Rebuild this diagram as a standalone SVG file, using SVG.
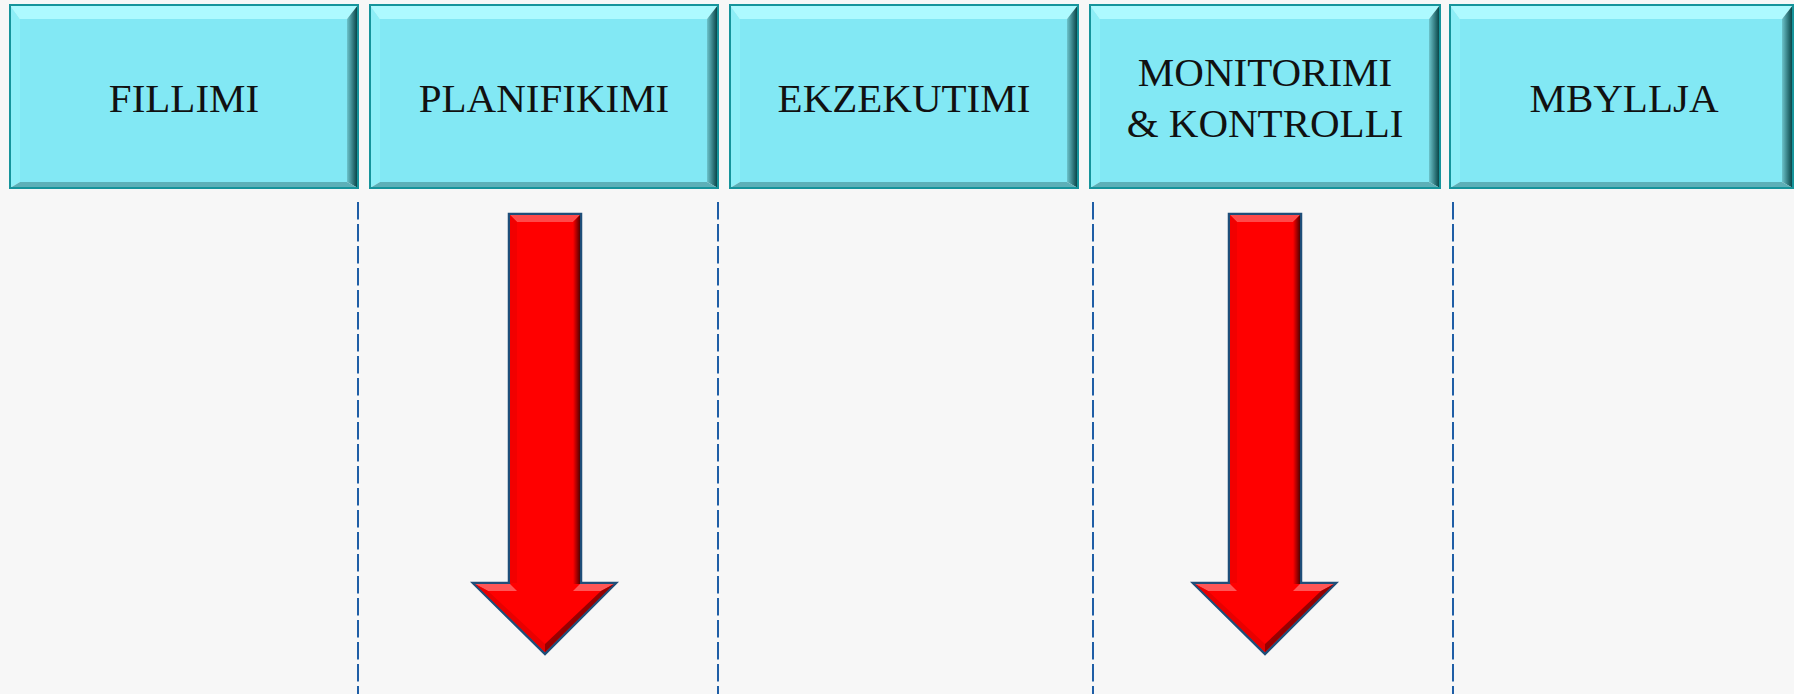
<svg xmlns="http://www.w3.org/2000/svg" width="1794" height="694" viewBox="0 0 1794 694">
<style>
  .face{fill:#82e8f4}
  .top{fill:#adfaff}
  .left{fill:#8deef7}
  .right{fill:url(#rgrad)}
  .bottom{fill:#5cb0b8}
  .border{fill:none;stroke:#16949b;stroke-width:2}
  .lbl{font-family:"Liberation Serif","Times New Roman",serif;font-size:41px;fill:#111;text-anchor:middle}
  .dash{stroke:#1f5ea6;stroke-width:2;stroke-dasharray:17.5 4.5;fill:none}
</style>
<defs>
  <linearGradient id="rgrad" x1="0" y1="0" x2="1" y2="0">
    <stop offset="0" stop-color="#6cc4cc"/>
    <stop offset="1" stop-color="#003a3c"/>
  </linearGradient>
  <linearGradient id="arR" x1="0" y1="0" x2="1" y2="0">
    <stop offset="0" stop-color="#ff0000"/>
    <stop offset="1" stop-color="#550000"/>
  </linearGradient>
  <linearGradient id="arD" x1="0" y1="0" x2="1" y2="1">
    <stop offset="0" stop-color="#c00000"/>
    <stop offset="1" stop-color="#6a0000"/>
  </linearGradient>
  <g id="arrow">
    <polygon points="-36,214 36,214 36,583 71,583 0,654 -72,583 -36,583" fill="#ff0000" stroke="#1f4e79" stroke-width="2.5" stroke-linejoin="miter"/>
    <polygon points="-35,215 35,215 28,222 -28,222" fill="#ff4a4a"/>
    <polygon points="-35,215 -28,222 -28,583 -35,583" fill="#f20000"/>
    <polygon points="28,222 35,215 35,584 28,584" fill="url(#arR)"/>
    <polygon points="-70,584 -35,584 -28,591 -57,591" fill="#ff5656"/>
    <polygon points="35,584 69,584 56,591 28,591" fill="#ff5656"/>
    <polygon points="-70,584 -57,591 0,644 0,652" fill="#e80000"/>
    <polygon points="69,584 56,591 0,644 0,652" fill="url(#arD)"/>
  </g>
</defs>
<rect width="1794" height="694" fill="#f7f7f7"/>

<g id="connectors">
  <line class="dash" x1="358" y1="202" x2="358" y2="694"/>
  <line class="dash" x1="718" y1="202" x2="718" y2="694"/>
  <line class="dash" x1="1093" y1="202" x2="1093" y2="694"/>
  <line class="dash" x1="1453" y1="202" x2="1453" y2="694"/>
  <use href="#arrow" transform="translate(545,0)"/>
  <use href="#arrow" transform="translate(1265,0)"/>
</g>

<g id="fillimi">
  <rect class="face" x="20" y="19" width="327" height="163"/>
  <polygon class="top" points="10,5 358,5 347,19 20,19"/>
  <polygon class="left" points="10,5 20,19 20,182 10,188"/>
  <polygon class="right" points="358,5 358,188 347,182 347,19"/>
  <polygon class="bottom" points="10,188 20,182 347,182 358,188"/>
  <rect class="border" x="10" y="5" width="348" height="183"/>
  <text class="lbl" x="184" y="112">FILLIMI</text>
</g>

<g id="planifikimi">
  <rect class="face" x="380" y="19" width="327" height="163"/>
  <polygon class="top" points="370,5 718,5 707,19 380,19"/>
  <polygon class="left" points="370,5 380,19 380,182 370,188"/>
  <polygon class="right" points="718,5 718,188 707,182 707,19"/>
  <polygon class="bottom" points="370,188 380,182 707,182 718,188"/>
  <rect class="border" x="370" y="5" width="348" height="183"/>
  <text class="lbl" x="544" y="112">PLANIFIKIMI</text>
</g>

<g id="ekzekutimi">
  <rect class="face" x="740" y="19" width="327" height="163"/>
  <polygon class="top" points="730,5 1078,5 1067,19 740,19"/>
  <polygon class="left" points="730,5 740,19 740,182 730,188"/>
  <polygon class="right" points="1078,5 1078,188 1067,182 1067,19"/>
  <polygon class="bottom" points="730,188 740,182 1067,182 1078,188"/>
  <rect class="border" x="730" y="5" width="348" height="183"/>
  <text class="lbl" x="904" y="112">EKZEKUTIMI</text>
</g>

<g id="monitorimi">
  <rect class="face" x="1100" y="19" width="329" height="163"/>
  <polygon class="top" points="1090,5 1440,5 1429,19 1100,19"/>
  <polygon class="left" points="1090,5 1100,19 1100,182 1090,188"/>
  <polygon class="right" points="1440,5 1440,188 1429,182 1429,19"/>
  <polygon class="bottom" points="1090,188 1100,182 1429,182 1440,188"/>
  <rect class="border" x="1090" y="5" width="350" height="183"/>
  <text class="lbl" x="1265" y="86">MONITORIMI</text>
  <text class="lbl" x="1265" y="137">&amp; KONTROLLI</text>
</g>

<g id="mbyllja">
  <rect class="face" x="1460" y="19" width="322" height="163"/>
  <polygon class="top" points="1450,5 1793,5 1782,19 1460,19"/>
  <polygon class="left" points="1450,5 1460,19 1460,182 1450,188"/>
  <polygon class="right" points="1793,5 1793,188 1782,182 1782,19"/>
  <polygon class="bottom" points="1450,188 1460,182 1782,182 1793,188"/>
  <rect class="border" x="1450" y="5" width="343" height="183"/>
  <text class="lbl" x="1624" y="112">MBYLLJA</text>
</g>
</svg>
